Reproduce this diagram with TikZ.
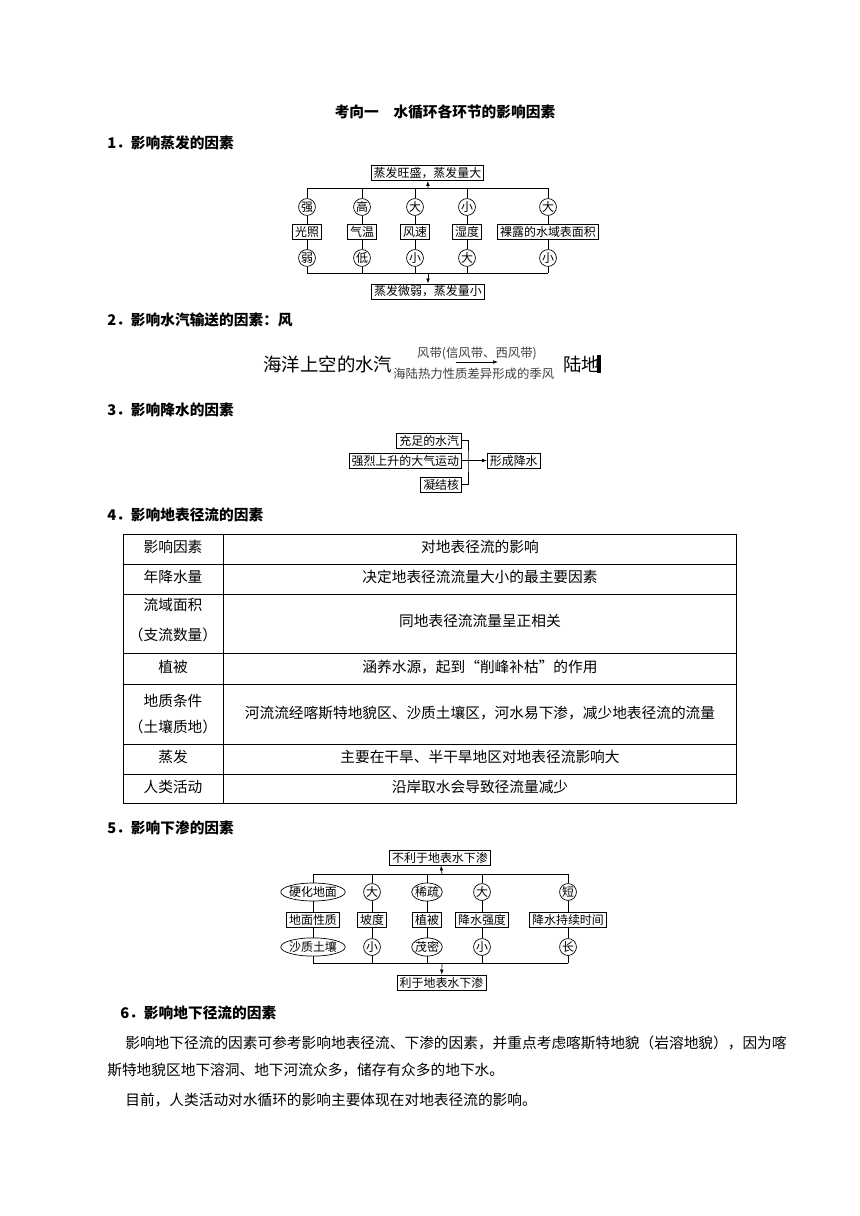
\documentclass[tikz,border=0pt]{standalone}
\usepackage{fontspec}
\setmainfont{Noto Sans CJK SC}
\usetikzlibrary{shapes.geometric,arrows.meta}
\newcommand{\txtfont}{\fontsize{10.45pt}{14pt}\selectfont}
\newcommand{\chartfont}{\fontsize{8.5pt}{10pt}\selectfont}
\newcommand{\bigfont}{\fontsize{13.1pt}{15pt}\selectfont}
\newcommand{\smfont}{\fontsize{8.8pt}{10pt}\selectfont}

\begin{document}
\begin{tikzpicture}[x=0.025cm,y=-0.025cm,line width=0.5pt,
  every node/.style={inner sep=0pt},
  head/.style={font=\txtfont\bfseries,anchor=west},
  para/.style={font=\txtfont,anchor=west},
  cell/.style={font=\txtfont},
  box/.style={draw,fill=white,font=\chartfont,inner xsep=1.8pt,inner ysep=0pt,minimum height=10.8pt},
  dot/.style={draw,fill=white,circle,font=\chartfont,minimum size=12pt,inner sep=0pt},
  oval/.style={draw,fill=white,ellipse,font=\chartfont,inner xsep=-0.8pt,inner ysep=0.6pt},
  arr/.style={-{Latex[length=3.5pt,width=2.6pt]}}
]
\useasboundingbox (0,0) rectangle (860,1216);

% title and headings
\node[font=\txtfont\bfseries] (title) at (445,112) {考向一　水循环各环节的影响因素};
\node[head] (h1) at (107,143) {1．影响蒸发的因素};
\node[head] (h2) at (107,320) {2．影响水汽输送的因素：风};
\node[head] (h3) at (107,410) {3．影响降水的因素};
\node[head] (h4) at (107,515) {4．影响地表径流的因素};
\node[head] (h5) at (107,828) {5．影响下渗的因素};
\node[head] (h6) at (120,1013) {6．影响地下径流的因素};

% 1: evaporation
\node[box] (evhi) at (427.5,173) {蒸发旺盛，蒸发量大};
\node[box] (evlo) at (428,291.5) {蒸发微弱，蒸发量小};
\node[dot] (ea1) at (307,207) {强};
\node[dot] (ea2) at (362,207) {高};
\node[dot] (ea3) at (415,207) {大};
\node[dot] (ea4) at (467,207) {小};
\node[dot] (ea5) at (548,207) {大};
\node[box] (ef1) at (307,232) {光照};
\node[box] (ef2) at (362,232) {气温};
\node[box] (ef3) at (415,232) {风速};
\node[box] (ef4) at (467,232) {湿度};
\node[box] (ef5) at (548,232) {裸露的水域表面积};
\node[dot] (eb1) at (307,258) {弱};
\node[dot] (eb2) at (362,258) {低};
\node[dot] (eb3) at (415,258) {小};
\node[dot] (eb4) at (467,258) {大};
\node[dot] (eb5) at (548,258) {小};
\coordinate (etl) at (307,188);
\coordinate (etr) at (548,188);
\coordinate (etm) at (428,188);
\coordinate (ebl) at (307,273);
\coordinate (ebr) at (548,273);
\coordinate (ebm) at (428,273);
\draw (etl) -- (etr);
\draw (ebl) -- (ebr);
\draw[arr] (etm) -- (evhi);
\draw[arr] (ebm) -- (evlo);
\draw (ea1 |- etl) -- (ea1) -- (ef1) -- (eb1) -- (eb1 |- ebl);
\draw (ea2 |- etl) -- (ea2) -- (ef2) -- (eb2) -- (eb2 |- ebl);
\draw (ea3 |- etl) -- (ea3) -- (ef3) -- (eb3) -- (eb3 |- ebl);
\draw (ea4 |- etl) -- (ea4) -- (ef4) -- (eb4) -- (eb4 |- ebl);
\draw (ea5 |- etl) -- (ea5) -- (ef5) -- (eb5) -- (eb5 |- ebl);

% 2: vapour transport
\node[font=\bigfont,anchor=west] (sea) at (263,364) {海洋上空的水汽};
\node[font=\smfont,text=black!75] (belt) at (477,354) {风带(信风带、西风带)};
\node[font=\smfont,text=black!75,anchor=west] (mons) at (393,374) {海陆热力性质差异形成的季风};
\node[font=\bigfont,anchor=west] (land) at (563,364) {陆地};
\coordinate (ws) at (456,362);
\coordinate (we) at (498,362);
\draw[arr] (ws) -- (we);
\draw[line width=2.2pt] (599,355) -- (599,373);

% 3: precipitation
\node[box,anchor=east] (vapor) at (462,440.5) {充足的水汽};
\node[box,anchor=east] (uplift) at (462,460.5) {强烈上升的大气运动};
\node[box,anchor=east] (nuclei) at (462,484.5) {凝结核};
\node[box,anchor=west] (rain) at (487,460.5) {形成降水};
\coordinate (join) at (468,460.5);
\draw (vapor) -| (join) |- (nuclei);
\draw[arr] (uplift) -- (rain);

% 4: runoff table
\draw (123,534) rectangle (736,803);
\foreach \yy in {564,594,653,684,744,774}
  \draw (123,\yy) -- (736,\yy);
\draw (223,534) -- (223,803);
\node[cell] (r0a) at (173,547) {影响因素};
\node[cell] (r0b) at (480,547) {对地表径流的影响};
\node[cell] (r1a) at (173,577) {年降水量};
\node[cell] (r1b) at (480,577) {决定地表径流流量大小的最主要因素};
\node[cell] (r2a) at (173,605) {流域面积};
\node[cell] (r2c) at (173,635) {（支流数量）};
\node[cell] (r2b) at (480,621) {同地表径流流量呈正相关};
\node[cell] (r3a) at (173,667) {植被};
\node[cell] (r3b) at (480,667) {涵养水源，起到“削峰补枯”的作用};
\node[cell] (r4a) at (173,701) {地质条件};
\node[cell] (r4c) at (173,727) {（土壤质地）};
\node[cell] (r4b) at (480,713) {河流流经喀斯特地貌区、沙质土壤区，河水易下渗，减少地表径流的流量};
\node[cell] (r5a) at (173,757) {蒸发};
\node[cell] (r5b) at (480,757) {主要在干旱、半干旱地区对地表径流影响大};
\node[cell] (r6a) at (173,787) {人类活动};
\node[cell] (r6b) at (480,787) {沿岸取水会导致径流量减少};

% 5: infiltration
\node[box] (infno) at (440,857.5) {不利于地表水下渗};
\node[box] (infyes) at (441.5,982.5) {利于地表水下渗};
\node[oval] (ia1) at (313,892) {硬化地面};
\node[dot] (ia2) at (372,892) {大};
\node[oval] (ia3) at (427,892) {稀疏};
\node[dot] (ia4) at (482,892) {大};
\node[dot] (ia5) at (568,892) {短};
\node[box] (if1) at (313,920) {地面性质};
\node[box] (if2) at (372,920) {坡度};
\node[box] (if3) at (427,920) {植被};
\node[box] (if4) at (482,920) {降水强度};
\node[box] (if5) at (568,920) {降水持续时间};
\node[oval] (ib1) at (313,947) {沙质土壤};
\node[dot] (ib2) at (372,947) {小};
\node[oval] (ib3) at (427,947) {茂密};
\node[dot] (ib4) at (482,947) {小};
\node[dot] (ib5) at (568,947) {长};
\coordinate (itl) at (313,874);
\coordinate (itr) at (568,874);
\coordinate (itm) at (442,874);
\coordinate (ibl) at (313,963);
\coordinate (ibr) at (568,963);
\coordinate (ibm) at (442,963);
\draw (itl) -- (itr);
\draw (ibl) -- (ibr);
\draw[arr] (itm) -- (infno);
\draw[arr] (ibm) -- (infyes);
\draw (ia1 |- itl) -- (ia1) -- (if1) -- (ib1) -- (ib1 |- ibl);
\draw (ia2 |- itl) -- (ia2) -- (if2) -- (ib2) -- (ib2 |- ibl);
\draw (ia3 |- itl) -- (ia3) -- (if3) -- (ib3) -- (ib3 |- ibl);
\draw (ia4 |- itl) -- (ia4) -- (if4) -- (ib4) -- (ib4 |- ibl);
\draw (ia5 |- itl) -- (ia5) -- (if5) -- (ib5) -- (ib5 |- ibl);

% 6: groundwater text
\node[para] (p1) at (125,1043) {影响地下径流的因素可参考影响地表径流、下渗的因素，并重点考虑喀斯特地貌（岩溶地貌），因为喀};
\node[para] (p2) at (107,1070) {斯特地貌区地下溶洞、地下河流众多，储存有众多的地下水。};
\node[para] (p3) at (125,1100) {目前，人类活动对水循环的影响主要体现在对地表径流的影响。};
\end{tikzpicture}
\end{document}
